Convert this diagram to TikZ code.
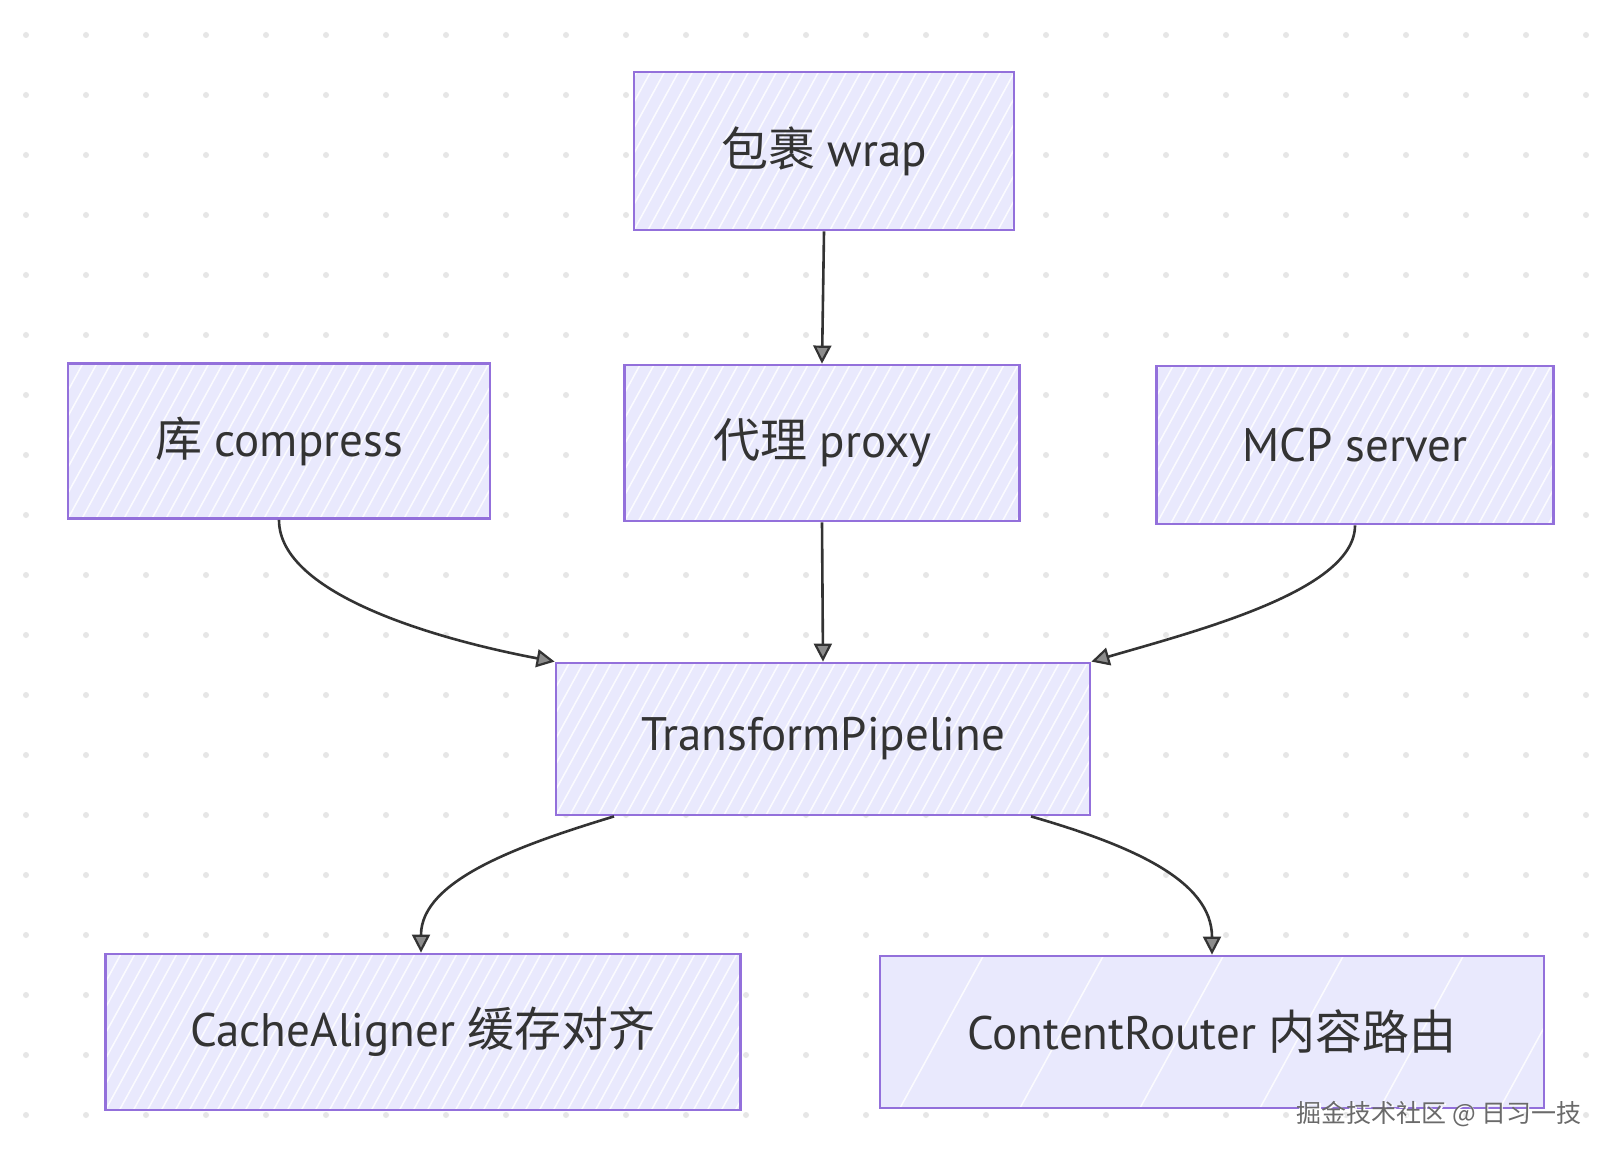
\documentclass[tikz,border=0pt]{standalone}
\usepackage{fontspec}
\setmainfont{PT Sans}
\newfontfamily\cjk{Noto Sans CJK SC}
\usetikzlibrary{arrows.meta}
\definecolor{boxfill}{HTML}{E9E9FD}
\definecolor{boxline}{HTML}{9370DB}
\definecolor{txt}{HTML}{333333}
\definecolor{dotc}{HTML}{E6E6E6}
\definecolor{wmgray}{HTML}{6A6A6A}
\begin{document}
\begin{tikzpicture}[x=1pt,y=-1pt,
  box/.style={draw=boxline, line width=2.8pt, fill=boxfill, rectangle, inner sep=0pt,
    text=txt, font=\fontsize{47}{54}\selectfont,
    path picture={\foreach \k in {-140,-126,...,680}{
      \draw[white, opacity=0.85, line width=1.5pt]
        (path picture bounding box.south west) ++(\k,0) -- ++(115,-210);}}},
  plainbox/.style={draw=boxline, line width=2.8pt, fill=boxfill, rectangle, inner sep=0pt,
    text=txt, font=\fontsize{47}{54}\selectfont,
    path picture={\foreach \k in {-100,20,...,680}{
      \draw[white, opacity=0.85, line width=1.5pt]
        (path picture bounding box.south west) ++(\k,0) -- ++(115,-210);}}},
  arr/.style={draw=txt, line width=2.6pt,
    -{Triangle[length=18pt,width=18pt,fill=black!45,line width=2.2pt]}}
]
\fill[white] (0,0) rectangle (1612,1158);
\useasboundingbox (0,0) rectangle (1612,1158);
\foreach \i in {0,...,26}{\foreach \j in {0,...,18}{
  \fill[dotc] (26+60*\i,35+60*\j) circle (3);}}

\node[box, minimum width=380pt, minimum height=158pt] (wrap) at (824,151) {{\cjk 包裹} wrap};
\node[box, minimum width=395pt, minimum height=156pt] (proxy) at (822,443) {{\cjk 代理} proxy};
\node[box, minimum width=422pt, minimum height=155pt] (compress) at (279,441) {{\cjk 库} compress};
\node[box, minimum width=397pt, minimum height=158pt] (mcp) at (1355,445) {MCP server};
\node[box, minimum width=534pt, minimum height=152pt] (tp) at (823,739) {TransformPipeline};
\node[box, minimum width=635pt, minimum height=156pt] (cache) at (423,1032) {CacheAligner {\cjk 缓存对齐}};
\node[plainbox, minimum width=664pt, minimum height=152pt] (router) at (1212,1032) {ContentRouter {\cjk 内容路由}};

\draw[arr] (wrap.south) -- (proxy.north);
\draw[arr] (proxy.south) -- (tp.north);
\draw[arr] (compress.south) .. controls (279,595) and (440,640) .. (tp.north west);
\draw[arr] (mcp.south) .. controls (1355,590) and (1200,630) .. (tp.north east);
\coordinate (tpl) at ([xshift=-209pt]tp.south);
\coordinate (tpr) at ([xshift=208pt]tp.south);
\draw[arr] (tpl) .. controls (520,845) and (421,880) .. ([xshift=-2pt]cache.north);
\draw[arr] (tpr) .. controls (1130,845) and (1212,880) .. (router.north);

\node[text=white, font=\cjk\fontsize{25}{28}\selectfont] (wmsh) at (1440.5,1115.5) {掘金技术社区 @ 日习一技};
\node[text=wmgray, font=\cjk\fontsize{25}{28}\selectfont] (wm) at (1439,1114) {掘金技术社区 @ 日习一技};
\end{tikzpicture}
\end{document}
